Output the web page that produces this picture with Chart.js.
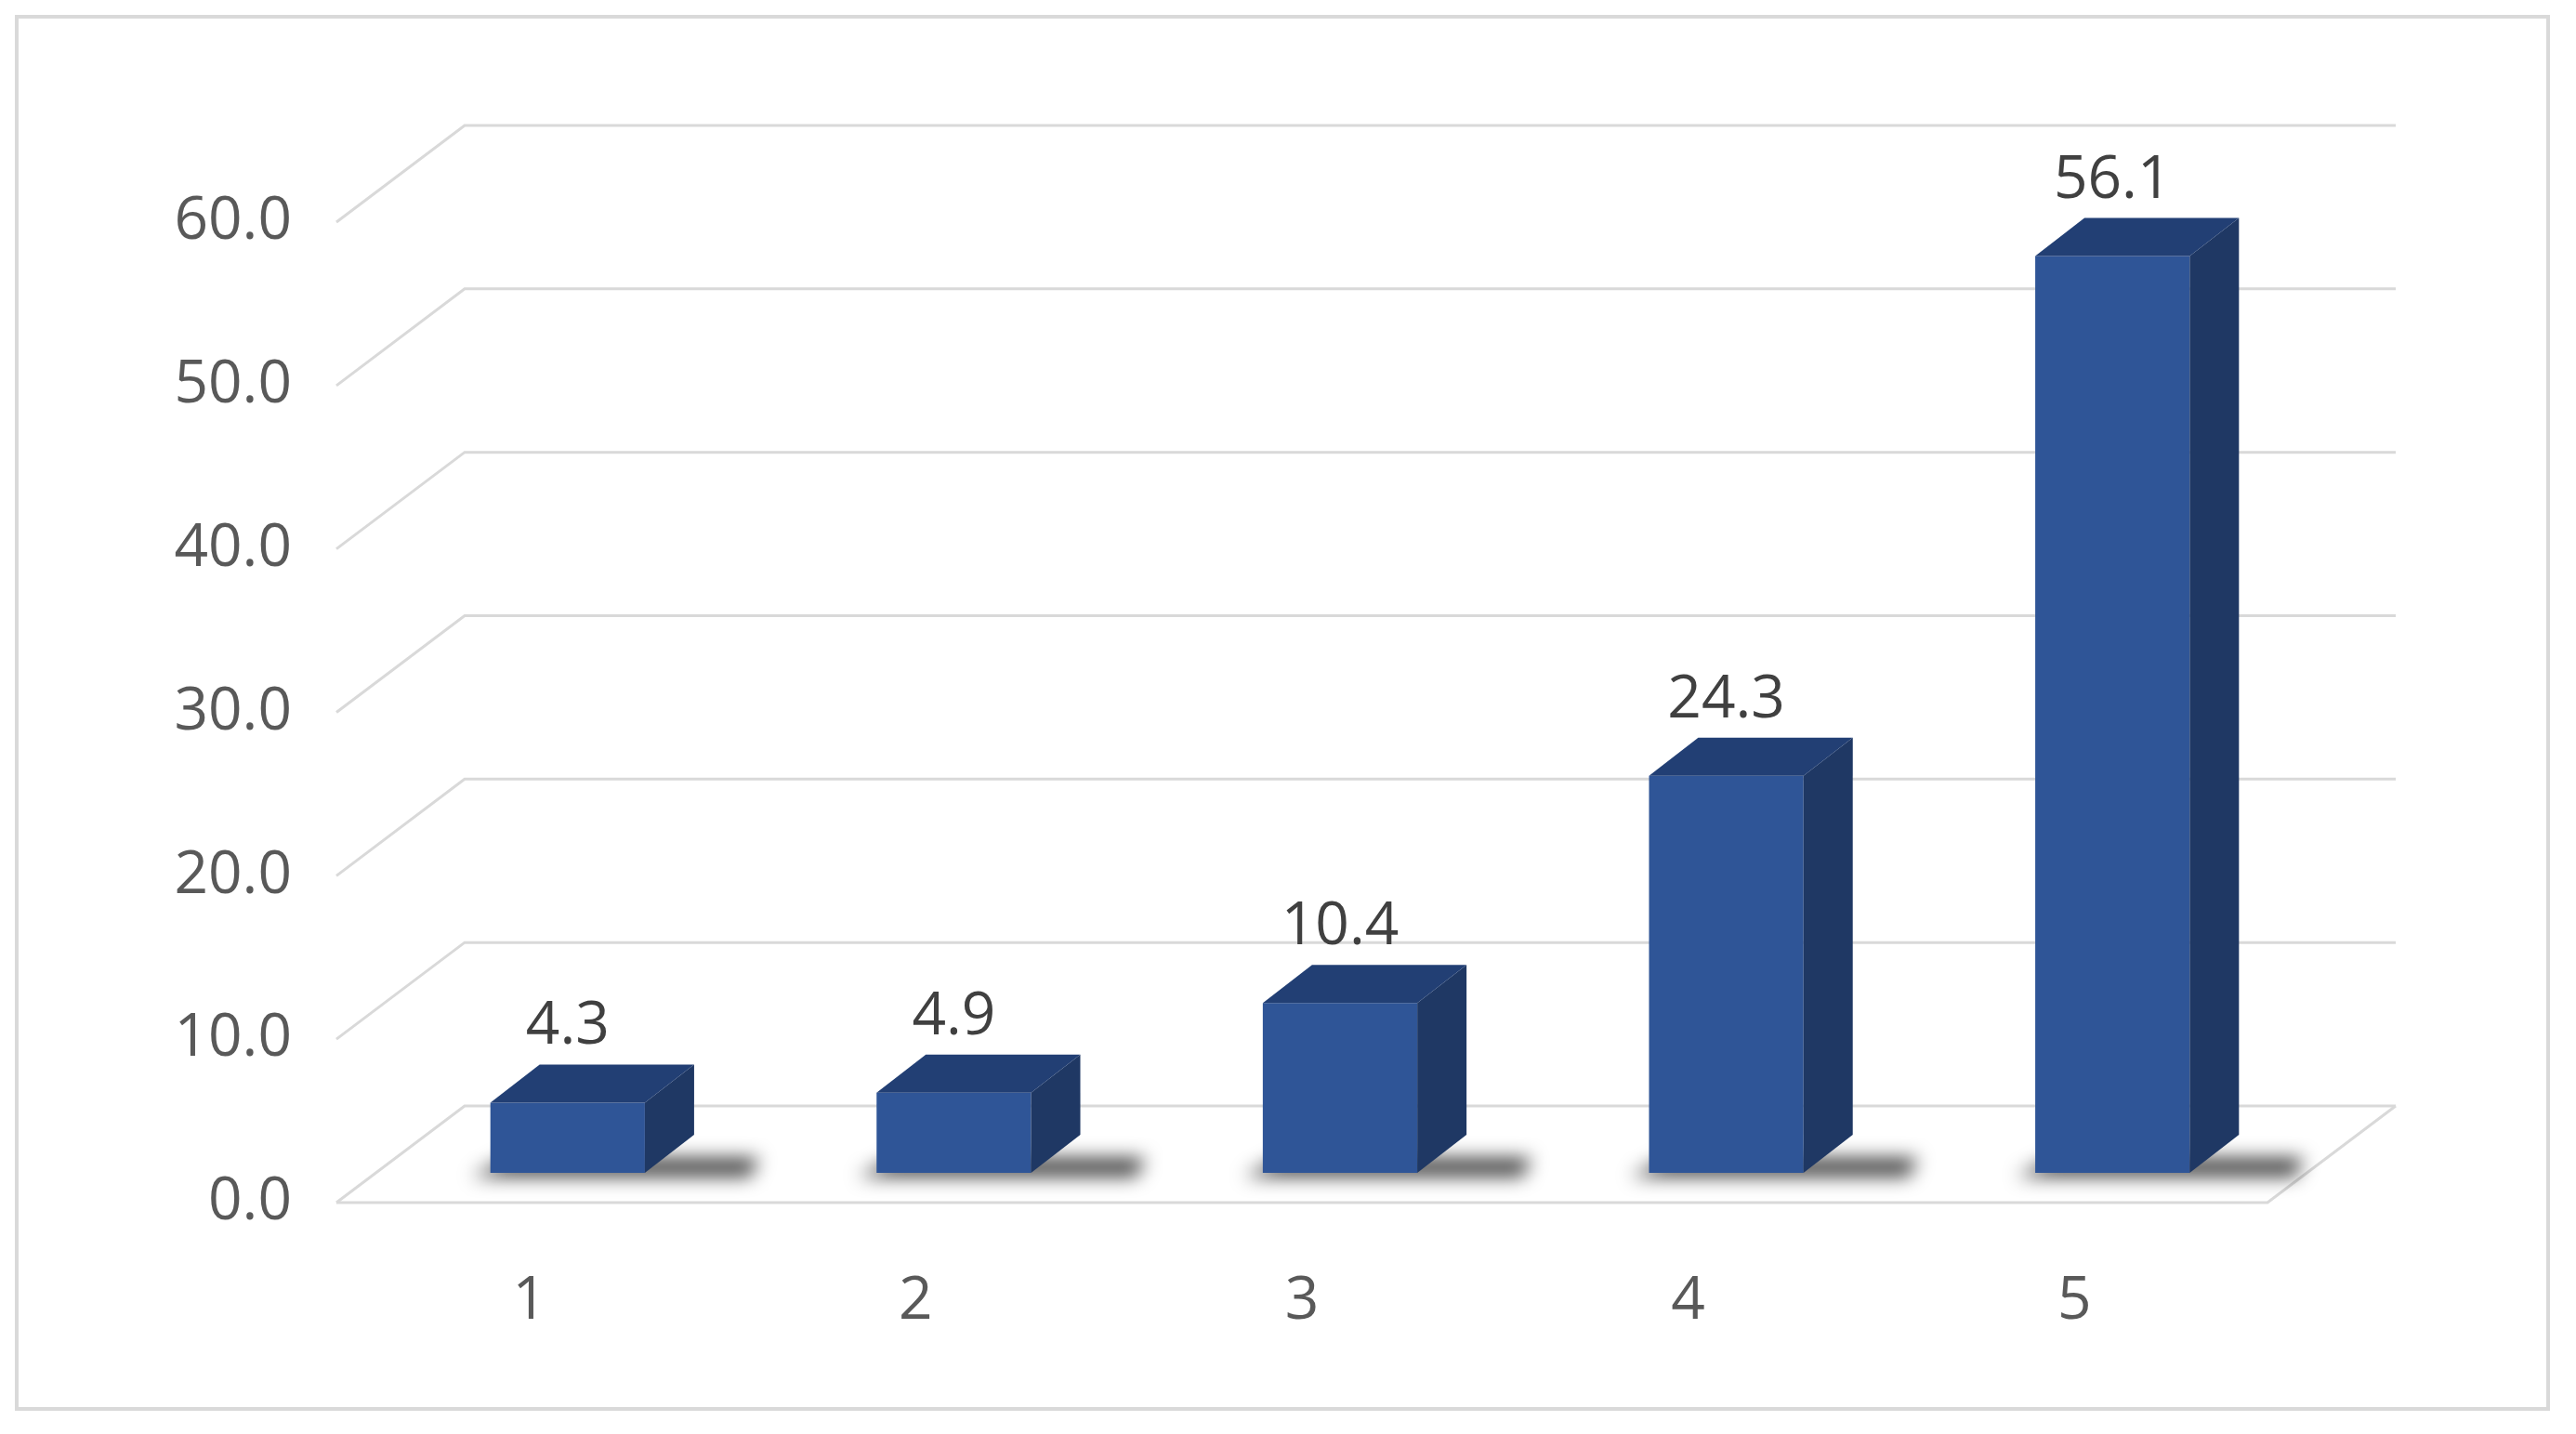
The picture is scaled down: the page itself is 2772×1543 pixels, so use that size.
<!DOCTYPE html>
<html><head><meta charset="utf-8">
<script src="https://cdn.jsdelivr.net/npm/chart.js@4"></script>
<style>
html,body{margin:0;padding:0;background:#fff;}
#wrap{position:absolute;left:0;top:0;width:2772px;height:1543px;}
#frame{position:absolute;left:16px;top:16px;width:2728px;height:1502px;border:4px solid #D9D9D9;box-sizing:border-box;}
</style></head><body>
<div id="wrap"><div id="frame"></div><canvas id="c" width="2772" height="1543"></canvas></div>
<script>
const categories = ['1','2','3','4','5'];
const values = [4.3, 4.9, 10.4, 24.3, 56.1];
const yTicks = [0,10,20,30,40,50,60];

const BACK = {dx:138, dy:-104};
const BAR = {dx:41, dy:-32};
const DEPTH = {dx:53, dy:-41};
const GRID = '#D9D9D9';

const threeD = {
  id:'threeD',
  beforeDatasetsDraw(chart){
    const ctx = chart.ctx, y = chart.scales.y, a = chart.chartArea;
    ctx.save();
    ctx.strokeStyle = GRID; ctx.lineWidth = 3;
    yTicks.forEach(v=>{
      const py = y.getPixelForValue(v);
      ctx.beginPath();
      ctx.moveTo(a.left, py); ctx.lineTo(a.left+BACK.dx, py+BACK.dy);
      ctx.lineTo(a.right+BACK.dx, py+BACK.dy);
      ctx.stroke();
    });
    const p0 = y.getPixelForValue(0);
    ctx.beginPath(); ctx.moveTo(a.left,p0); ctx.lineTo(a.right,p0);
    ctx.lineTo(a.right+BACK.dx,p0+BACK.dy); ctx.stroke();
    // shadows
    const meta = chart.getDatasetMeta(0);
    ctx.filter = 'blur(10px)';
    ctx.fillStyle = 'rgba(0,0,0,0.75)';
    meta.data.forEach(b=>{
      const w = b.width, l = b.x - w/2 + BAR.dx, bt = b.base + BAR.dy;
      ctx.beginPath();
      ctx.moveTo(l-20, bt+4); ctx.lineTo(l+w+DEPTH.dx+60, bt+4);
      ctx.lineTo(l+w+DEPTH.dx+70, bt-16); ctx.lineTo(l+20, bt-16);
      ctx.closePath(); ctx.fill();
    });
    ctx.filter = 'none';
    ctx.restore();
    ctx.save();
    ctx.translate(BAR.dx, BAR.dy);
  },
  afterDatasetsDraw(chart){
    const ctx = chart.ctx;
    const meta = chart.getDatasetMeta(0);
    meta.data.forEach((b,i)=>{
      const w=b.width, l=b.x-w/2, r=b.x+w/2, t=b.y, bs=b.base;
      ctx.fillStyle='#1F3864';
      ctx.beginPath(); ctx.moveTo(r,t); ctx.lineTo(r+DEPTH.dx,t+DEPTH.dy);
      ctx.lineTo(r+DEPTH.dx,bs+DEPTH.dy); ctx.lineTo(r,bs); ctx.closePath(); ctx.fill();
      ctx.fillStyle='#223F74';
      ctx.beginPath(); ctx.moveTo(l,t); ctx.lineTo(l+DEPTH.dx,t+DEPTH.dy);
      ctx.lineTo(r+DEPTH.dx,t+DEPTH.dy); ctx.lineTo(r,t); ctx.closePath(); ctx.fill();
      ctx.fillStyle='#404040'; ctx.font='64px "Open Sans", Arial'; ctx.textAlign='center'; ctx.textBaseline='alphabetic';
      ctx.fillText(values[i].toFixed(1), b.x, t+DEPTH.dy-22);
    });
    ctx.restore();
  }
};

new Chart(document.getElementById('c'), {
  type:'bar',
  data:{labels:categories, datasets:[{data:values, backgroundColor:'#2F5597', borderWidth:0, barPercentage:0.4, categoryPercentage:1}]},
  options:{
    responsive:false, animation:false,
    layout:{padding:{top:239, right:332, left:0, bottom:0}},
    plugins:{legend:{display:false}, tooltip:{enabled:false}},
    scales:{
      y:{min:0,max:60, ticks:{stepSize:10, padding:40, color:'#595959', font:{size:64, family:'"Open Sans", Arial'}, callback:v=>v.toFixed(1)},
         grid:{display:false}, border:{display:false}, afterFit:s=>{s.width=362;}},
      x:{ticks:{padding:60, color:'#595959', font:{size:64, family:'"Open Sans", Arial'}},
         grid:{display:false}, border:{display:false}, afterFit:s=>{s.height=249;}}
    }
  },
  plugins:[threeD]
});
</script></body></html>
